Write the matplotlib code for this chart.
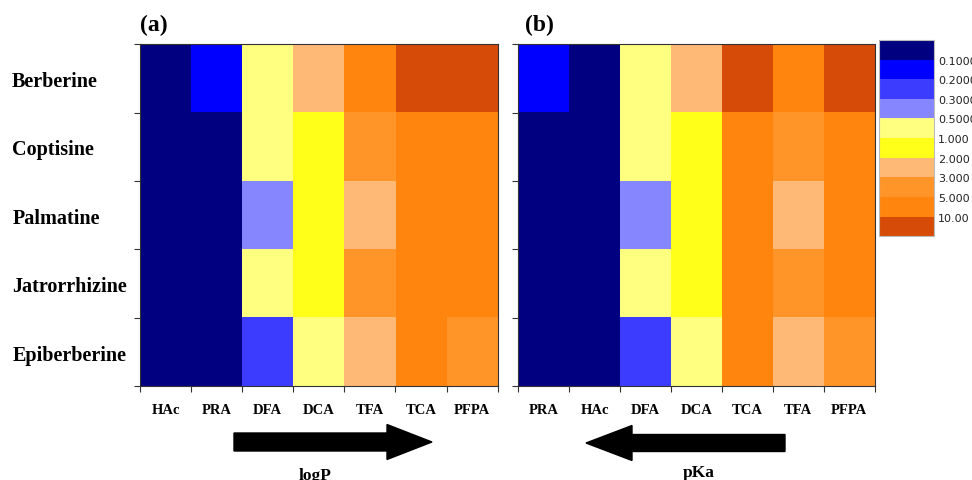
import numpy as np
import matplotlib
matplotlib.use('Agg')
import matplotlib.pyplot as plt
from matplotlib.colors import ListedColormap, BoundaryNorm
from matplotlib.patches import FancyArrow

# Data: alkaloids (rows) x ion-pair reagents (columns)
alkaloids = ['Berberine', 'Coptisine', 'Palmatine', 'Jatrorrhizine', 'Epiberberine']

reagents_a = ['HAc', 'PRA', 'DFA', 'DCA', 'TFA', 'TCA', 'PFPA']   # ordered by logP
values_a = [
    [0.05, 0.15, 0.7, 2.5, 7.0, 15.0, 15.0],
    [0.05, 0.05, 0.7, 1.5, 4.0, 7.0, 7.0],
    [0.05, 0.05, 0.4, 1.5, 2.5, 7.0, 7.0],
    [0.05, 0.05, 0.7, 1.5, 4.0, 7.0, 7.0],
    [0.05, 0.05, 0.25, 0.7, 2.5, 7.0, 4.0],
]

reagents_b = ['PRA', 'HAc', 'DFA', 'DCA', 'TCA', 'TFA', 'PFPA']   # ordered by pKa
values_b = [
    [0.15, 0.05, 0.7, 2.5, 15.0, 7.0, 15.0],
    [0.05, 0.05, 0.7, 1.5, 7.0, 4.0, 7.0],
    [0.05, 0.05, 0.4, 1.5, 7.0, 2.5, 7.0],
    [0.05, 0.05, 0.7, 1.5, 7.0, 4.0, 7.0],
    [0.05, 0.05, 0.25, 0.7, 7.0, 2.5, 4.0],
]

# colour scale
bounds = [0.01, 0.1, 0.2, 0.3, 0.5, 1, 2, 3, 5, 10, 100]
bound_labels = ['0.1000', '0.2000', '0.3000', '0.5000', '1.000', '2.000', '3.000', '5.000', '10.00']
colors = ['#000080', '#0000FF', '#3C3CFF', '#8686FF', '#FFFF80',
          '#FFFF1A', '#FFB976', '#FF9429', '#FF850F', '#D64B07']
cmap = ListedColormap(colors)
norm = BoundaryNorm(bounds, cmap.N)

serif = ['Liberation Serif', 'DejaVu Serif']

fig = plt.figure(figsize=(9.72, 4.81), dpi=100)
ax_a = fig.add_axes([0.144, 0.195, 0.368, 0.711])
ax_b = fig.add_axes([0.533, 0.195, 0.367, 0.711])

def draw_panel(ax, vals, cols, show_rows):
    arr = np.array(vals)
    im = ax.imshow(arr, cmap=cmap, norm=norm, aspect='auto', interpolation='nearest')
    ax.set_xticks(np.arange(arr.shape[1]))
    ax.set_xticklabels(cols, fontfamily=serif, fontweight='bold', fontsize=10.5)
    ax.set_yticks(np.arange(arr.shape[0]))
    if show_rows:
        ax.set_yticklabels(alkaloids, fontfamily=serif, fontweight='bold', fontsize=14.5, ha='left')
        ax.tick_params(axis='y', pad=92)
    else:
        ax.set_yticklabels([])
    ax.tick_params(which='major', length=0)
    ax.tick_params(axis='x', pad=12)
    # ticks at the cell boundaries
    ax.set_xticks(np.arange(-0.5, arr.shape[1]), minor=True)
    ax.set_yticks(np.arange(-0.5, arr.shape[0]), minor=True)
    ax.tick_params(which='minor', length=4, width=0.8, color='#333333', direction='out')
    for s in ax.spines.values():
        s.set_linewidth(0.8)
        s.set_color('#333333')
    return im

im = draw_panel(ax_a, values_a, reagents_a, True)
draw_panel(ax_b, values_b, reagents_b, False)

fig.text(0.144, 0.948, '(a)', fontfamily=serif, fontweight='bold', fontsize=17, va='center')
fig.text(0.540, 0.948, '(b)', fontfamily=serif, fontweight='bold', fontsize=17, va='center')

# colour bar
cax = fig.add_axes([0.904, 0.507, 0.057, 0.408])
cb = fig.colorbar(im, cax=cax, boundaries=bounds, spacing='uniform', ticks=bounds[1:-1])
cb.ax.set_yticklabels(bound_labels)
cb.ax.invert_yaxis()
cb.ax.minorticks_off()
cb.ax.tick_params(length=0, labelsize=8, pad=3, labelcolor='#222222')
cb.outline.set_edgecolor('#bbbbbb')
cb.outline.set_linewidth(0.8)

# arrows and their labels, drawn on an overlay in pixel units
ov = fig.add_axes([0, 0, 1, 1], zorder=-1)
ov.set_xlim(0, 972)
ov.set_ylim(481, 0)
ov.axis('off')
ov.add_patch(FancyArrow(234, 443, 198, 0, width=18, head_width=35, head_length=45,
                        length_includes_head=True, color='black'))
ov.add_patch(FancyArrow(785, 444, -199, 0, width=17, head_width=35, head_length=46,
                        length_includes_head=True, color='black'))
ov.text(315, 476, 'logP', fontfamily=serif, fontweight='bold', fontsize=12.5, ha='center', va='center')
ov.text(699, 473, 'pKa', fontfamily=serif, fontweight='bold', fontsize=12.5, ha='center', va='center')

fig.savefig('out.png', dpi=100)
